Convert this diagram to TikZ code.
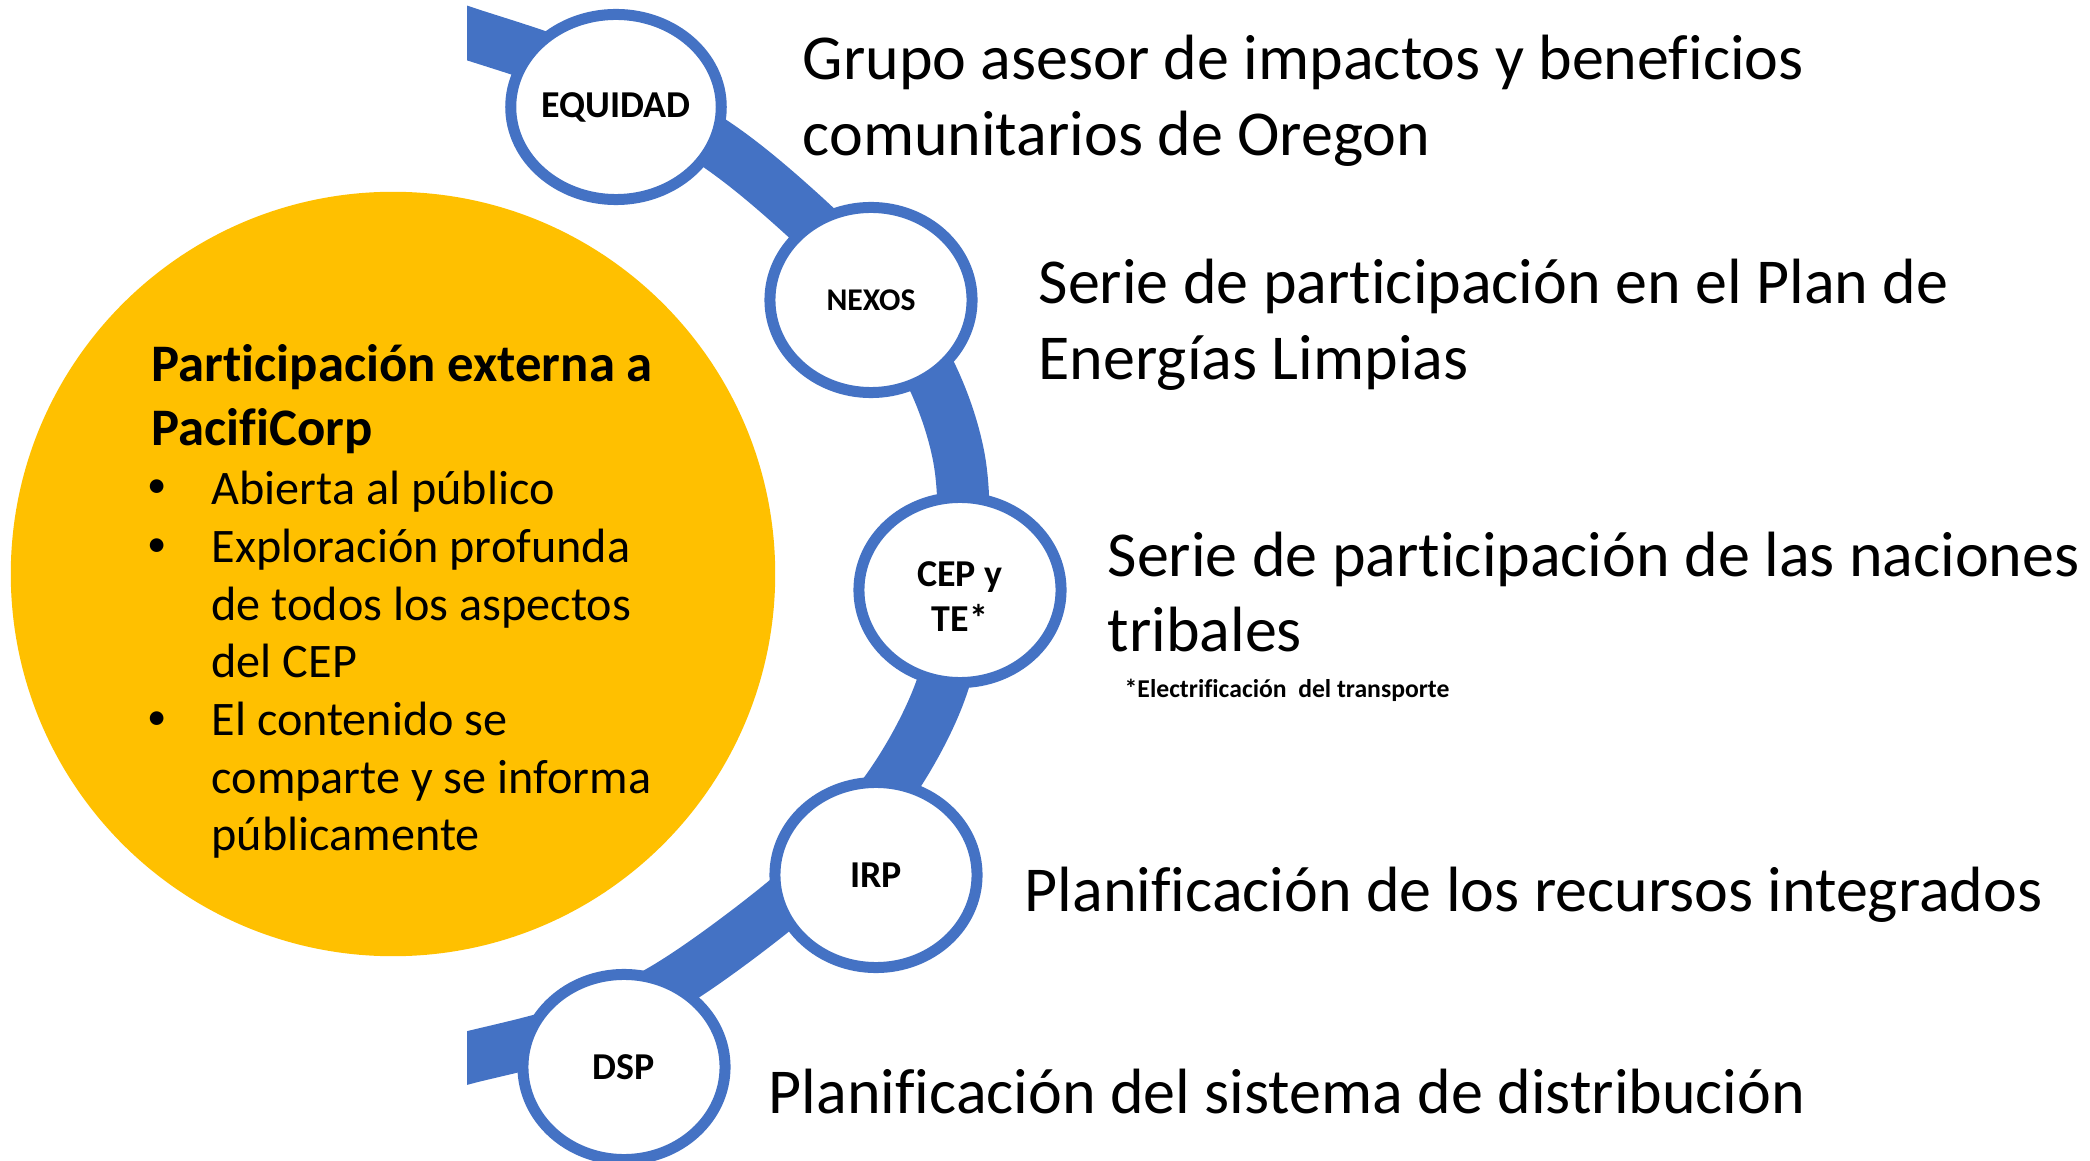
\documentclass[tikz,border=0pt]{standalone}
\usepackage{fontspec}
\setmainfont{Carlito}[Ligatures=CommonOff]
\usetikzlibrary{shapes.geometric}

\definecolor{arcblue}{HTML}{4472C4}
\definecolor{gold}{HTML}{FFC000}

\tikzset{
  stage/.style={ellipse, draw=arcblue, line width=0.11cm, fill=white,
    minimum width=2.02cm, minimum height=1.85cm, inner sep=0pt, align=center,
    font=\fontsize{10.8}{12.8}\selectfont\bfseries},
  desc/.style={anchor=west, inner sep=0pt, align=left,
    font=\fontsize{18.2}{21.5}\selectfont},
  item/.style={anchor=west, inner sep=0pt, align=left,
    font=\fontsize{13.7}{16.4}\selectfont}
}

\begin{document}
\begin{tikzpicture}[x=0.01cm, y=-0.01cm]
  \useasboundingbox (0,0) rectangle (2090,1161);

  % external engagement
  \node[circle, fill=gold, minimum size=7.64cm, inner sep=0pt] (ext) at (393,574) {};
  \node[item, font=\fontsize{15}{18.1}\selectfont\bfseries] (exttitle) at (151,399)
    {Participación externa a\\PacifiCorp};
  \node[item] (extlist) at (211,665)
    {Abierta al público\\Exploración profunda\\de todos los aspectos\\del CEP\\El contenido se\\comparte y se informa\\públicamente};
  \foreach \y/\n in {489/1,548/2,721/3}
    \node[font=\fontsize{11}{13}\selectfont, inner sep=0pt] (dot\n) at (157,\y) {•};

  % arc
  \coordinate (arctop) at (453,28);
  \coordinate (arcbot) at (453,1062);
  \begin{scope}
    \clip (467,0) rectangle (2090,1161);
    \draw[arcblue, line width=0.52cm] plot[smooth, tension=0.6] coordinates {
      (arctop) (467,33) (560,64) (640,100) (720,147) (794,207) (854,267) (920,353)
      (958,453) (963,560) (954,640) (934,707) (894,780) (840,847) (778,907)
      (667,987) (573,1030) (467,1058) (arcbot)};
  \end{scope}

  % stages
  \node[stage] (equidad) at (616,107) {EQUIDAD};
  \node[stage, font=\fontsize{9}{11}\selectfont\bfseries] (nexos) at (871,300) {NEXOS};
  \node[stage] (cep) at (960,590) {};
  \node[align=center, inner sep=0pt, font=\fontsize{10.8}{12.8}\selectfont\bfseries] (ceptag) at (960,597) {CEP y\\TE*};
  \node[stage] (irp) at (876,875) {IRP};
  \node[stage] (dsp) at (624,1067) {DSP};

  % descriptions
  \node[desc] (equidadtxt) at (802,101) {Grupo asesor de impactos y beneficios\\comunitarios de Oregon};
  \node[desc] (nexostxt) at (1038,325) {Serie de participación en el Plan de\\Energías Limpias};
  \node[desc] (ceptxt) at (1107,592) {Serie de participación de las naciones\\tribales};
  \node[anchor=west, inner sep=0pt, font=\fontsize{7.3}{8.8}\selectfont\bfseries] (cepnote) at (1124,690)
    {*Electrificación\ \ del transporte};
  \node[desc] (irptxt) at (1024,895) {Planificación de los recursos integrados};
  \node[desc] (dsptxt) at (768,1092) {Planificación del sistema de distribución};
\end{tikzpicture}
\end{document}
